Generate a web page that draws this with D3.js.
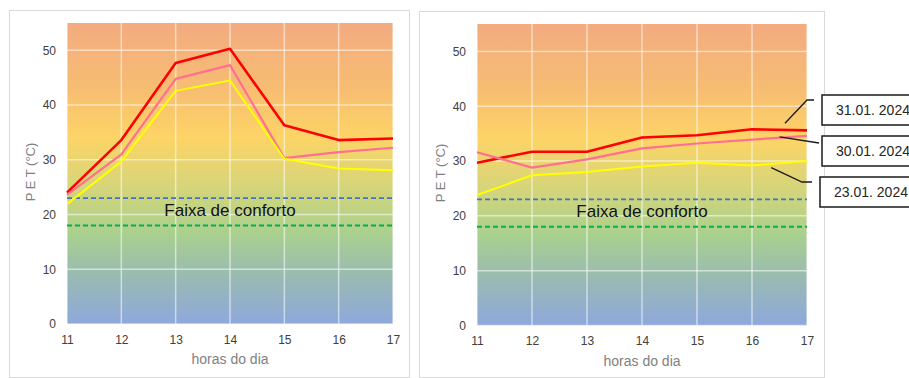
<!DOCTYPE html>
<html>
<head>
<meta charset="utf-8">
<script src="https://cdn.jsdelivr.net/npm/d3@7"></script>
<style>
  body { margin: 0; background: #fff; }
  svg { display: block; }
</style>
</head>
<body>
<div id="wrapper"></div>
<script>
// data
var hours = [11, 12, 13, 14, 15, 16, 17]
var yTicks = [0, 10, 20, 30, 40, 50]
var comfortUpper = 23
var comfortLower = 18

var leftRed = [24.0, 33.6, 47.7, 50.3, 36.3, 33.6, 33.9]
var leftPink = [23.6, 31.0, 44.8, 47.3, 30.3, 31.4, 32.2]
var leftYellow = [21.9, 29.7, 42.6, 44.5, 30.2, 28.4, 28.1]

var rightRed = [29.7, 31.7, 31.7, 34.3, 34.7, 35.8, 35.6]
var rightPink = [31.6, 28.8, 30.3, 32.3, 33.2, 33.9, 34.6]
var rightYellow = [23.8, 27.4, 28.0, 29.0, 29.7, 29.2, 30.0]

var dateLabels = ["31.01. 2024", "30.01. 2024", "23.01. 2024"]
// where each callout points (hour, value)
var calloutHour = [16.6, 16.5, 16.35]
var calloutValue = [36.9, 34.4, 28.8]

var seriesColors = ["#ff0000", "#ff7090", "#ffff00"]
var seriesWidths = [2.6, 2.2, 2]

var W = 909, H = 378
var svg = d3.select("#wrapper")
  .append("svg")
  .attr("width", W)
  .attr("height", H)
  .style("font-family", "'Liberation Sans', Arial, sans-serif")

// background gradient shared by both panels
var defs = svg.append("defs")
var grad = defs.append("linearGradient")
  .attr("id", "bgGrad")
  .attr("x1", 0).attr("y1", 0).attr("x2", 0).attr("y2", 1)
var stops = [[0, "#f3ab80"], [0.22, "#f7bd72"], [0.38, "#fdd466"], [0.55, "#d4d57b"], [0.7, "#a9d08e"], [0.85, "#98b9b4"], [1, "#8ea8dc"]]
stops.forEach(function (s) {
  grad.append("stop").attr("offset", s[0]).attr("stop-color", s[1])
})

function drawPanel(p) {
  var g = svg.append("g")

  // panel frame
  g.append("rect")
    .attr("x", p.frame[0] + 0.5)
    .attr("y", p.frame[1] + 0.5)
    .attr("width", p.frame[2] - p.frame[0])
    .attr("height", p.frame[3] - p.frame[1])
    .attr("fill", "#fff")
    .attr("stroke", "#d9d9d9")

  var x = d3.scaleLinear().domain([11, 17]).range([p.left, p.right])
  var y = d3.scaleLinear().domain([0, 55]).range([p.bottom, p.top])

  g.append("rect")
    .attr("x", p.left)
    .attr("y", p.top)
    .attr("width", p.right - p.left)
    .attr("height", p.bottom - p.top)
    .attr("fill", "url(#bgGrad)")

  // grid
  g.append("g").selectAll("line")
    .data(hours)
    .enter().append("line")
    .attr("x1", d => x(d)).attr("x2", d => x(d))
    .attr("y1", p.top).attr("y2", p.bottom)
    .attr("stroke", "rgba(255,255,255,0.55)")
    .attr("stroke-width", 1.5)
  g.append("g").selectAll("line")
    .data(yTicks)
    .enter().append("line")
    .attr("x1", p.left).attr("x2", p.right)
    .attr("y1", d => y(d)).attr("y2", d => y(d))
    .attr("stroke", "rgba(255,255,255,0.55)")
    .attr("stroke-width", 1.5)

  // axes (labels only)
  var yAxis = g.append("g")
    .attr("transform", "translate(" + p.left + ",0)")
    .call(d3.axisLeft(y).tickValues(yTicks).tickSize(0).tickPadding(11).tickFormat(d3.format("d")))
  var xAxis = g.append("g")
    .attr("transform", "translate(0," + p.bottom + ")")
    .call(d3.axisBottom(x).tickValues(hours).tickSize(0).tickPadding(11).tickFormat(d3.format("d")))
  ;[xAxis, yAxis].forEach(function (a) {
    a.select(".domain").remove()
    a.selectAll("text")
      .attr("fill", "#404040")
      .style("font-size", "12px")
  })

  // comfort band
  g.append("line")
    .attr("x1", p.left).attr("x2", p.right)
    .attr("y1", y(comfortUpper)).attr("y2", y(comfortUpper))
    .attr("stroke", "#4472c4")
    .attr("stroke-width", 1.8)
    .attr("stroke-dasharray", "5,3")
  g.append("line")
    .attr("x1", p.left).attr("x2", p.right)
    .attr("y1", y(comfortLower)).attr("y2", y(comfortLower))
    .attr("stroke", "#00b050")
    .attr("stroke-width", 2)
    .attr("stroke-dasharray", "5,3")
  g.append("text")
    .attr("x", x(14))
    .attr("y", y(comfortUpper) + 18)
    .attr("text-anchor", "middle")
    .attr("fill", "#111")
    .style("font-size", "17px")
    .text("Faixa de conforto")

  // series
  var line = d3.line()
    .x((d, i) => x(hours[i]))
    .y(d => y(d))
  p.series.forEach(function (s, i) {
    g.append("path")
      .datum(s)
      .attr("d", line)
      .attr("fill", "none")
      .attr("stroke", seriesColors[i])
      .attr("stroke-width", seriesWidths[i])
      .attr("stroke-linejoin", "round")
  })

  // axis titles
  g.append("text")
    .attr("x", (p.left + p.right) / 2)
    .attr("y", p.bottom + 40)
    .attr("text-anchor", "middle")
    .attr("fill", "#7f7f7f")
    .style("font-size", "14px")
    .text("horas do dia")
  g.append("text")
    .attr("transform", "translate(" + (p.left - 32) + "," + (p.top + 149) + ") rotate(-90)")
    .attr("text-anchor", "middle")
    .attr("fill", "#7f7f7f")
    .style("font-size", "13px")
    .text("P E T (°C)")

  return { x: x, y: y }
}

var leftPanel = drawPanel({
  frame: [9, 10, 409, 377],
  left: 67, right: 393, top: 23, bottom: 324,
  series: [leftRed, leftPink, leftYellow]
})

var rightPanel = drawPanel({
  frame: [419, 11, 824, 377],
  left: 477, right: 807, top: 24, bottom: 325.5,
  series: [rightRed, rightPink, rightYellow]
})

// callouts on the right panel
var boxTop = [95, 136, 177]
var boxLeft = [822, 822, 820]
var elbow = [[807, 100, 814], [819, 143, 819], [802, 182, 812]]

dateLabels.forEach(function (label, i) {
  var ax = rightPanel.x(calloutHour[i])
  var ay = rightPanel.y(calloutValue[i])
  svg.append("polyline")
    .attr("points", [[ax, ay], [elbow[i][0], elbow[i][1]], [elbow[i][2], elbow[i][1]]].join(" "))
    .attr("fill", "none")
    .attr("stroke", "#1a1a1a")
    .attr("stroke-width", 1.3)
  svg.append("rect")
    .attr("x", boxLeft[i])
    .attr("y", boxTop[i])
    .attr("width", 100)
    .attr("height", 30)
    .attr("fill", "#fff")
    .attr("stroke", "#1a1a1a")
    .attr("stroke-width", 1.5)
  svg.append("text")
    .attr("x", boxLeft[i] + 14)
    .attr("y", boxTop[i] + 20)
    .attr("fill", "#262626")
    .style("font-size", "14px")
    .text(label)
})
</script>
</body>
</html>
